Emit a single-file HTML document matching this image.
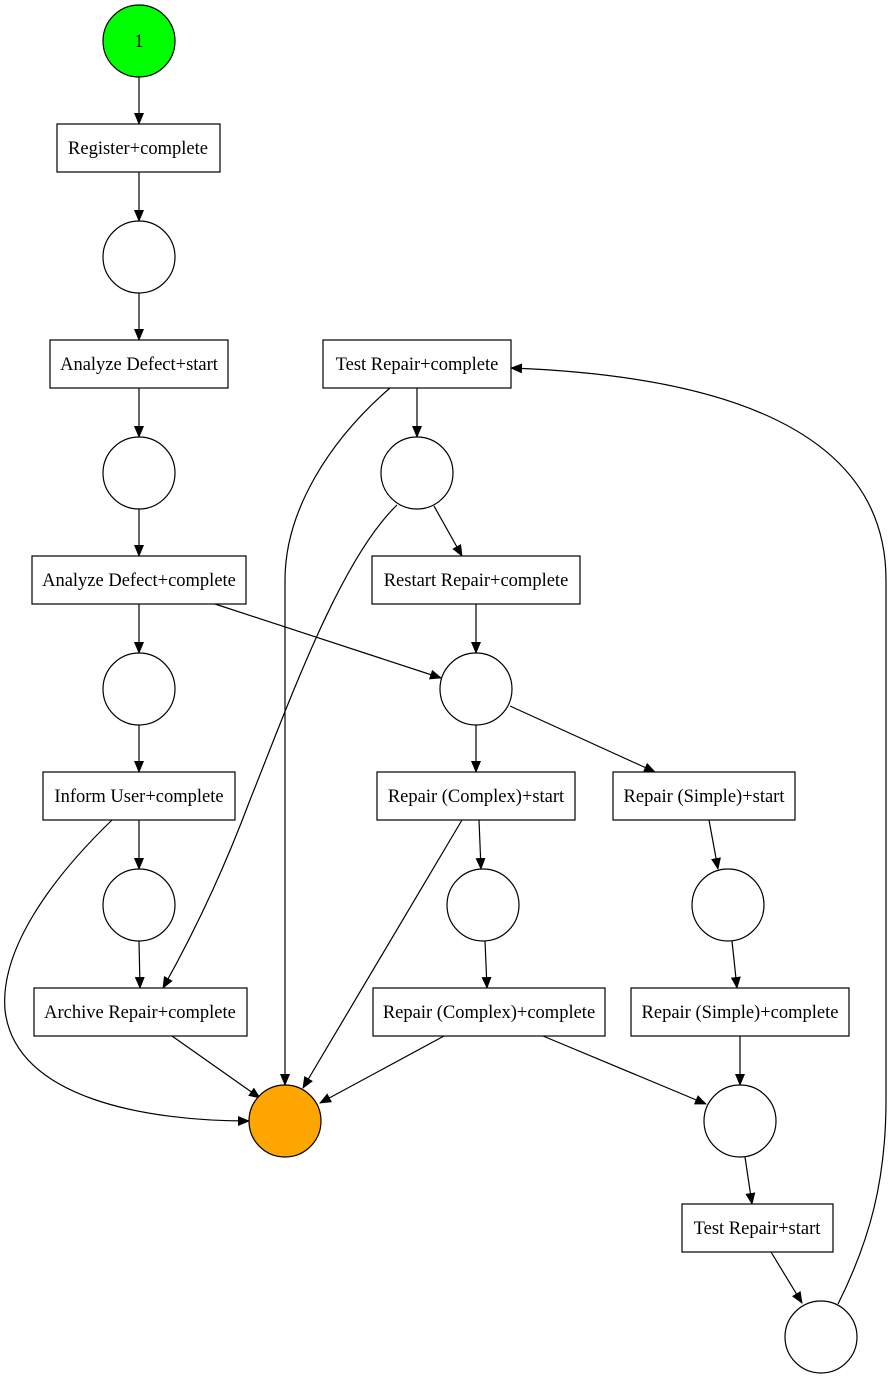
<!DOCTYPE html>
<html><head><meta charset="utf-8"><style>
html,body{margin:0;padding:0;background:#fff;}
svg{display:block;}
text{font-family:"Liberation Serif",serif;font-size:18.5px;text-anchor:middle;dominant-baseline:central;fill:#000;}
</style></head><body>
<svg width="892" height="1379" viewBox="0 0 892 1379" xmlns="http://www.w3.org/2000/svg">
<defs><marker id="a" markerWidth="12" markerHeight="10" refX="11" refY="5" orient="auto" markerUnits="userSpaceOnUse"><path d="M0,0 L12,5 L0,10 z" fill="#000"/></marker></defs>
<g fill="none" stroke="#000" stroke-width="1.2" marker-end="url(#a)">
<path d="M139,77 L139,124"/>
<path d="M139,172 L139,221"/>
<path d="M139,293 L139,340"/>
<path d="M139,388 L139,437"/>
<path d="M139,509 L139,556"/>
<path d="M139,604 L139,653"/>
<path d="M215,604 L441,678"/>
<path d="M139,725 L139,772"/>
<path d="M139,820 L139,869"/>
<path d="M112,820 C50,880 0,950 5,1010 C15,1100 150,1121 249,1121"/>
<path d="M139,941 L140,988"/>
<path d="M172,1036 L260,1098"/>
<path d="M390,388 C330,440 285,510 285,580 L285,1085"/>
<path d="M417,388 L417,437"/>
<path d="M397,505 C340,560 290,700 250,800 C220,880 190,940 163,988"/>
<path d="M434,506 L462,556"/>
<path d="M476,604 L476,653"/>
<path d="M510,706 L655,772"/>
<path d="M476,725 L476,772"/>
<path d="M462,820 L303,1088"/>
<path d="M479,820 L481,869"/>
<path d="M485,941 L487,988"/>
<path d="M444,1036 L320,1103"/>
<path d="M543,1036 L706,1104"/>
<path d="M709,820 L718,869"/>
<path d="M732,941 L737,988"/>
<path d="M740,1036 L740,1085"/>
<path d="M745,1157 L752,1204"/>
<path d="M771,1252 L802,1303"/>
<path d="M838,1304 C870,1240 886,1180 886,1100 L886,580 C886,420 700,375 511,368"/>
</g>
<g stroke="#000" stroke-width="1.2">
<circle cx="139" cy="41" r="36" fill="#00ff00"/>
<circle cx="139" cy="257" r="36" fill="#fff"/>
<circle cx="139" cy="473" r="36" fill="#fff"/>
<circle cx="139" cy="689" r="36" fill="#fff"/>
<circle cx="139" cy="905" r="36" fill="#fff"/>
<circle cx="285" cy="1121" r="36" fill="#ffa500"/>
<circle cx="417" cy="473" r="36" fill="#fff"/>
<circle cx="476" cy="689" r="36" fill="#fff"/>
<circle cx="483" cy="905" r="36" fill="#fff"/>
<circle cx="728" cy="905" r="36" fill="#fff"/>
<circle cx="740" cy="1121" r="36" fill="#fff"/>
<circle cx="821" cy="1337" r="36" fill="#fff"/>
<rect x="57" y="124" width="163" height="48" fill="#fff"/>
<rect x="50" y="340" width="178" height="48" fill="#fff"/>
<rect x="32" y="556" width="214" height="48" fill="#fff"/>
<rect x="43" y="772" width="192" height="48" fill="#fff"/>
<rect x="34" y="988" width="213" height="48" fill="#fff"/>
<rect x="323" y="340" width="188" height="48" fill="#fff"/>
<rect x="372" y="556" width="208" height="48" fill="#fff"/>
<rect x="377" y="772" width="198" height="48" fill="#fff"/>
<rect x="613" y="772" width="182" height="48" fill="#fff"/>
<rect x="373" y="988" width="232" height="48" fill="#fff"/>
<rect x="631" y="988" width="218" height="48" fill="#fff"/>
<rect x="682" y="1204" width="151" height="48" fill="#fff"/>
</g>
<text x="139" y="42">1</text>
<text x="138" y="149">Register+complete</text>
<text x="139" y="365">Analyze Defect+start</text>
<text x="139" y="581">Analyze Defect+complete</text>
<text x="139" y="797">Inform User+complete</text>
<text x="140" y="1013">Archive Repair+complete</text>
<text x="417" y="365">Test Repair+complete</text>
<text x="476" y="581">Restart Repair+complete</text>
<text x="476" y="797">Repair (Complex)+start</text>
<text x="704" y="797">Repair (Simple)+start</text>
<text x="489" y="1013">Repair (Complex)+complete</text>
<text x="740" y="1013">Repair (Simple)+complete</text>
<text x="757" y="1229">Test Repair+start</text>
</svg>
</body></html>
